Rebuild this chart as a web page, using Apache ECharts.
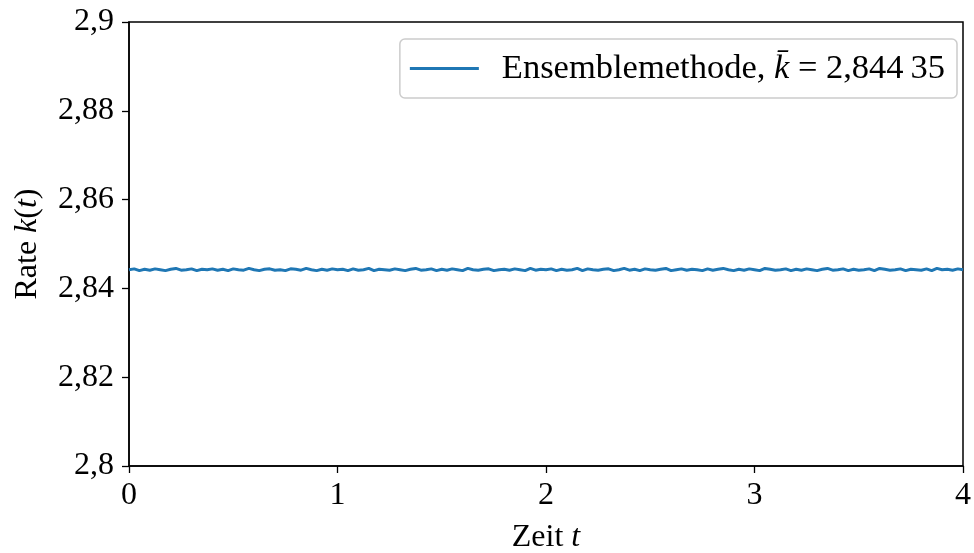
<!DOCTYPE html>
<html>
<head>
<meta charset="utf-8">
<script src="https://cdn.jsdelivr.net/npm/echarts@6/dist/echarts.min.js"></script>
<style>html,body{margin:0;padding:0;background:#fff}#c{width:974px;height:553px}</style>
</head>
<body>
<div id="c"></div>
<script>
const timeStep = 0.025;
const rateValues = [
2.8442,2.8444,2.8440,2.8443,2.8441,2.8444,2.8442,2.8440,2.8443,2.8445,
2.8441,2.8442,2.8444,2.8440,2.8443,2.8442,2.8444,2.8441,2.8443,2.8440,
2.8444,2.8442,2.8441,2.8445,2.8442,2.8440,2.8443,2.8444,2.8441,2.8442,
2.8440,2.8444,2.8443,2.8441,2.8445,2.8442,2.8440,2.8443,2.8441,2.8444,
2.8442,2.8443,2.8440,2.8444,2.8441,2.8442,2.8445,2.8440,2.8443,2.8442,
2.8441,2.8444,2.8442,2.8440,2.8443,2.8445,2.8441,2.8442,2.8444,2.8440,
2.8443,2.8441,2.8444,2.8442,2.8440,2.8445,2.8442,2.8441,2.8443,2.8444,
2.8440,2.8442,2.8443,2.8441,2.8444,2.8442,2.8440,2.8445,2.8441,2.8443,
2.8442,2.8444,2.8440,2.8443,2.8441,2.8442,2.8445,2.8440,2.8444,2.8442,
2.8441,2.8443,2.8444,2.8440,2.8442,2.8445,2.8441,2.8443,2.8440,2.8444,
2.8442,2.8441,2.8443,2.8445,2.8440,2.8442,2.8444,2.8441,2.8443,2.8442,
2.8440,2.8444,2.8441,2.8443,2.8445,2.8442,2.8440,2.8443,2.8441,2.8444,
2.8442,2.8440,2.8445,2.8443,2.8441,2.8442,2.8444,2.8440,2.8443,2.8441,
2.8444,2.8442,2.8440,2.8443,2.8445,2.8441,2.8442,2.8444,2.8440,2.8443,
2.8441,2.8442,2.8444,2.8440,2.8445,2.8443,2.8441,2.8442,2.8444,2.8440,
2.8443,2.8442,2.8441,2.8444,2.8440,2.8445,2.8442,2.8443,2.8441,2.8444,
2.8442
];
const xTicks = [0,1,2,3,4];
const yTicks = [2.8,2.82,2.84,2.86,2.88,2.9];
const seriesName = 'Ensemblemethode';
const meanLabel = '2,844\u200935';

const data = rateValues.map((v,i)=>[+(i*timeStep).toFixed(3), v]);
const font = 'Liberation Serif';
const FS = 32;
const LFS = 34.5;
const mkRich = (s)=>({
  n:{fontFamily:font,fontSize:s,color:'#000'},
  i:{fontFamily:font,fontSize:s,fontStyle:'italic',color:'#000'}
});
const chart = echarts.init(document.getElementById('c'));
chart.setOption({
  animation:false,
  grid:{left:129,right:11,top:22,bottom:87,show:true,borderColor:'#000',borderWidth:1.5,backgroundColor:'transparent',
    containLabel:false,outerBoundsMode:'none'},
  xAxis:{type:'value',min:xTicks[0],max:xTicks[xTicks.length-1],interval:1,
    axisLine:{show:true,onZero:false,lineStyle:{color:'#000',width:1.5}},
    axisTick:{show:true,length:7,lineStyle:{color:'#000',width:1.3}},
    splitLine:{show:false},
    axisLabel:{fontFamily:font,fontSize:FS,color:'#000',margin:14},
    name:'{n|Zeit }{i|t}',nameLocation:'middle',nameGap:56,
    nameTextStyle:{rich:mkRich(FS)}
  },
  yAxis:{type:'value',min:yTicks[0],max:yTicks[yTicks.length-1],interval:0.02,
    axisLine:{show:true,onZero:false,lineStyle:{color:'#000',width:1.5}},
    axisTick:{show:true,length:7,lineStyle:{color:'#000',width:1.3}},
    splitLine:{show:false},
    axisLabel:{fontFamily:font,fontSize:FS,color:'#000',margin:15,
      formatter:v=>String(Math.round(v*100)/100).replace('.',',')},
    name:'{n|Rate }{i|k}{n|(}{i|t}{n|)}',nameLocation:'middle',nameGap:85,nameRotate:90,
    nameTextStyle:{rich:mkRich(FS)}
  },
  legend:{show:true,right:17,top:39,orient:'horizontal',
    backgroundColor:'#fff',borderColor:'#cccccc',borderWidth:1.5,borderRadius:5,
    padding:[12,12,12,10],itemWidth:69,itemHeight:3,itemGap:10,
    icon:'rect',
    formatter:()=>'{g|}{n|Ensemblemethode, }{i|k\u0304}{n| = '+meanLabel+'}',
    textStyle:{rich:Object.assign({g:{width:18}},mkRich(LFS))}
  },
  series:[{name:seriesName,type:'line',data:data,showSymbol:false,
    lineStyle:{color:'#1f77b4',width:3},itemStyle:{color:'#1f77b4'}}]
});
</script>
</body>
</html>
